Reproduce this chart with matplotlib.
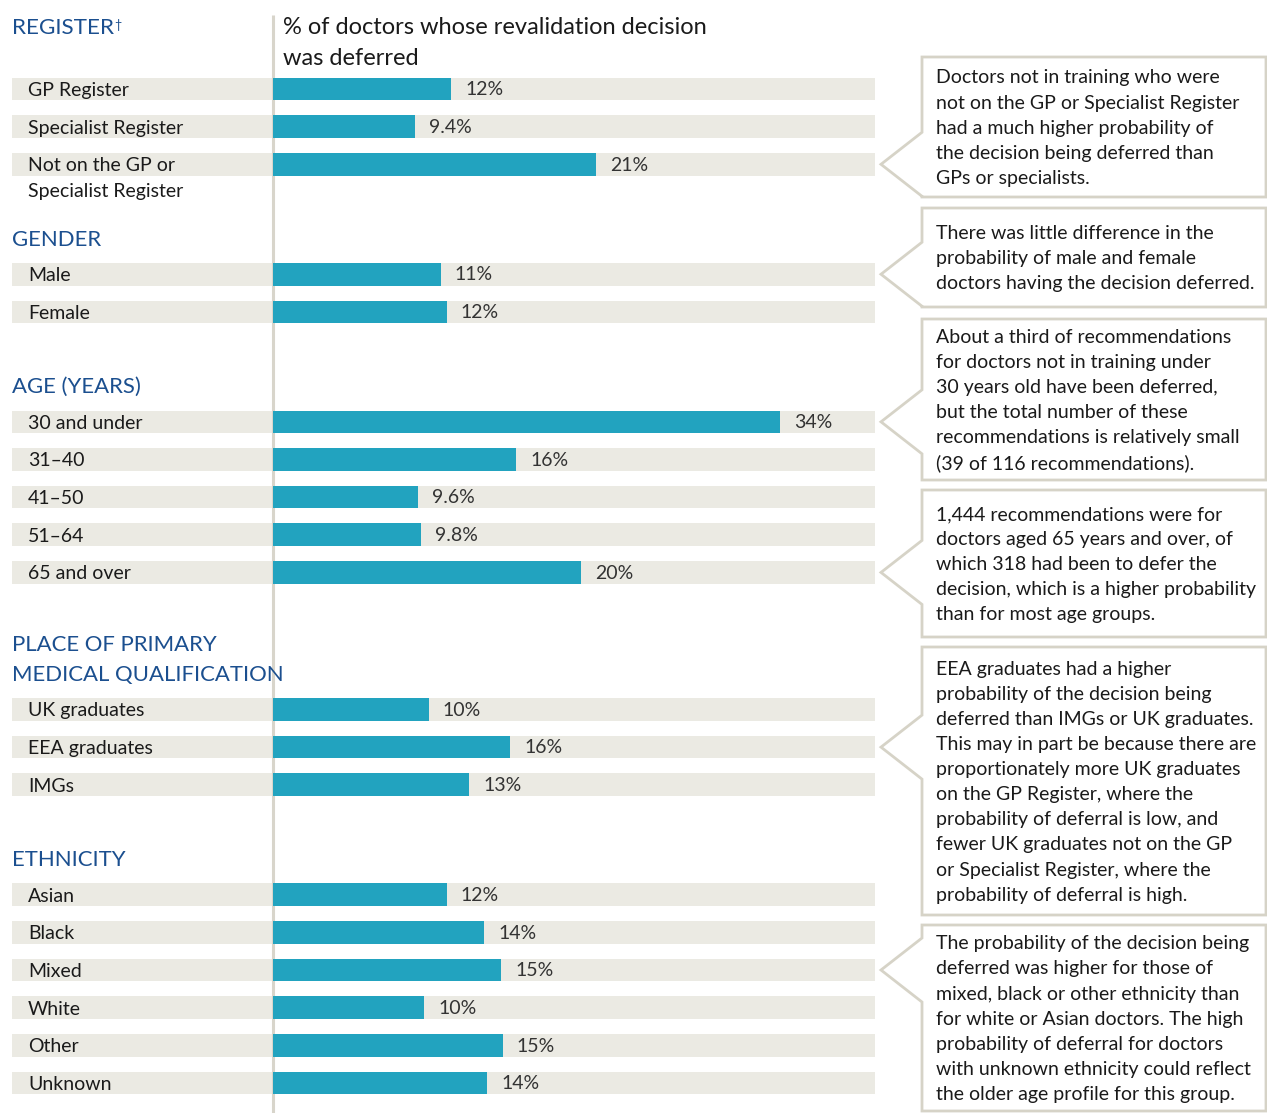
import matplotlib
matplotlib.use("Agg")
import matplotlib.pyplot as plt
from matplotlib.patches import Polygon
from matplotlib.transforms import ScaledTranslation

plt.rcParams['font.family'] = ['Lato', 'DejaVu Sans']

TEAL = '#22a3bf'
BAND = '#ebeae3'
BLUE = '#1b4f8f'
RULE = '#d8d5cb'
BOX_EDGE = '#d6d3c7'

title = "% of doctors whose revalidation decision\nwas deferred"

headings = ["REGISTER", "GENDER", "AGE (YEARS)",
            "PLACE OF PRIMARY\nMEDICAL QUALIFICATION", "ETHNICITY"]

register_labels = ["GP Register", "Specialist Register", "Not on the GP or\nSpecialist Register"]
register_values = [11.8, 9.4, 21.4]
register_text = ["12%", "9.4%", "21%"]

gender_labels = ["Male", "Female"]
gender_values = [11.1, 11.5]
gender_text = ["11%", "12%"]

age_labels = ["30 and under", "31–40", "41–50", "51–64", "65 and over"]
age_values = [33.6, 16.1, 9.6, 9.8, 20.4]
age_text = ["34%", "16%", "9.6%", "9.8%", "20%"]

pmq_labels = ["UK graduates", "EEA graduates", "IMGs"]
pmq_values = [10.3, 15.7, 13.0]
pmq_text = ["10%", "16%", "13%"]

eth_labels = ["Asian", "Black", "Mixed", "White", "Other", "Unknown"]
eth_values = [11.5, 14.0, 15.1, 10.0, 15.2, 14.2]
eth_text = ["12%", "14%", "15%", "10%", "15%", "14%"]

notes = [
    "Doctors not in training who were\nnot on the GP or Specialist Register\nhad a much higher probability of\nthe decision being deferred than\nGPs or specialists.",
    "There was little difference in the\nprobability of male and female\ndoctors having the decision deferred.",
    "About a third of recommendations\nfor doctors not in training under\n30 years old have been deferred,\nbut the total number of these\nrecommendations is relatively small\n(39 of 116 recommendations).",
    "1,444 recommendations were for\ndoctors aged 65 years and over, of\nwhich 318 had been to defer the\ndecision, which is a higher probability\nthan for most age groups.",
    "EEA graduates had a higher\nprobability of the decision being\ndeferred than IMGs or UK graduates.\nThis may in part be because there are\nproportionately more UK graduates\non the GP Register, where the\nprobability of deferral is low, and\nfewer UK graduates not on the GP\nor Specialist Register, where the\nprobability of deferral is high.",
    "The probability of the decision being\ndeferred was higher for those of\nmixed, black or other ethnicity than\nfor white or Asian doctors. The high\nprobability of deferral for doctors\nwith unknown ethnicity could reflect\nthe older age profile for this group.",
]
# which row each note points at (group, item)
note_targets = [(0, 2), (1, 0), (2, 0), (2, 4), (3, 1), (4, 2)]
# box top / bottom in pixels
note_boxes = [(57, 197), (208, 307), (319, 480), (490, 637), (647, 915), (925, 1111)]

groups = [
    (register_labels, register_values, register_text),
    (gender_labels, gender_values, gender_text),
    (age_labels, age_values, age_text),
    (pmq_labels, pmq_values, pmq_text),
    (eth_labels, eth_values, eth_text),
]
gaps = [2.92, 2.92, 3.64, 2.92]

# pixel -> data helpers (x in %, y in rows)
W, H = 1267, 1113
PX_PER_PCT = 15.1
X0 = 273
ROW_PX = 37.65
Y0 = 89


def xd(px):
    return (px - X0) / PX_PER_PCT


def yd(px):
    return (px - Y0) / ROW_PX


fig = plt.figure(figsize=(W / 100, H / 100), dpi=100)
ax = fig.add_axes([0, 0, 1, 1])
ax.set_xlim(xd(0), xd(W))
ax.set_ylim(yd(H), yd(0))
ax.axis('off')

FS = 14
positions = []
pos = 0.0
for g, (labels, values, texts) in enumerate(groups):
    rows = []
    for lab, val, txt in zip(labels, values, texts):
        rows.append(pos)
        ax.barh(pos, xd(875) - xd(12), left=xd(12), height=0.6, color=BAND, zorder=1)
        ax.barh(pos, val, height=0.6, color=TEAL, zorder=3)
        for k, line in enumerate(lab.split('\n')):
            ax.text(xd(28), pos + 0.04 + k * 26 / ROW_PX, line, va='center', ha='left',
                    fontsize=FS, color='#1a1a1a', zorder=4)
        ax.text(val + 14 / PX_PER_PCT, pos + 0.02, txt, va='center', ha='left',
                fontsize=FS, color='#333333', zorder=4)
        pos += 1
    positions.append(rows)
    if g < len(gaps):
        pos += gaps[g] - 1

# section headings
for g, head in enumerate(headings):
    if g == 0:
        t = ax.text(xd(12), yd(28), head, va='center', ha='left', fontsize=16.2, color=BLUE)
        ax.annotate('†', xy=(1.0, 0.95), xycoords=t, xytext=(0.5, 0), textcoords='offset points',
                    va='top', ha='left', fontsize=9, color=BLUE)
    else:
        ax.text(xd(12), positions[g][0] - 0.97, head, va='baseline', ha='left',
                fontsize=15.9, color=BLUE, linespacing=1.6,
                transform=ax.transData + ScaledTranslation(0, -8 / 100, fig.dpi_scale_trans))

ax.text(xd(283), yd(26), title, va='top', ha='left', fontsize=17, color='#1a1a1a',
        linespacing=1.58, transform=ax.transData + ScaledTranslation(0, 9 / 100, fig.dpi_scale_trans))

# separator rule
ax.plot([0, 0], [yd(15), yd(H)], color=RULE, lw=2.2, zorder=2, solid_capstyle='butt')

# callout boxes
for note, (g, i), (top, bot) in zip(notes, note_targets, note_boxes):
    tip = positions[g][i]
    half = 32 / ROW_PX
    pts = [(xd(922), yd(top)), (xd(1266), yd(top)), (xd(1266), yd(bot)), (xd(922), yd(bot)),
           (xd(922), min(tip + half, yd(bot))), (xd(881), tip), (xd(922), tip - half)]
    ax.add_patch(Polygon(pts, closed=True, facecolor='white', edgecolor=BOX_EDGE,
                         lw=2, joinstyle='miter', zorder=5))
    ax.text(xd(936), yd(top) + 0.5 * (yd(bot) - yd(top)) + 0.03, note, va='center', ha='left',
            fontsize=FS, color='#1a1a1a', linespacing=1.58, zorder=6)

fig.savefig("out.png", dpi=100)
